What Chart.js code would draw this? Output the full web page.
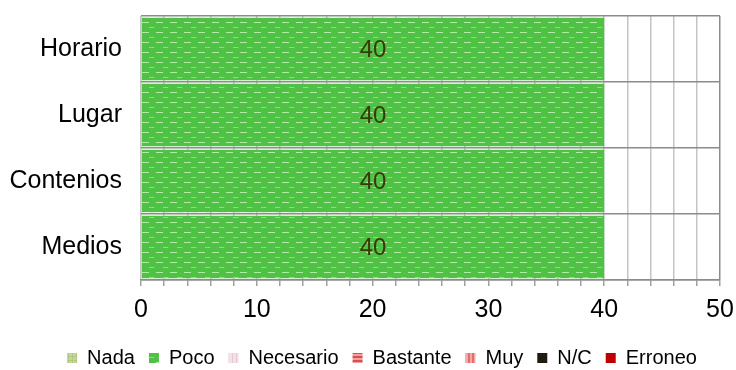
<!DOCTYPE html>
<html><head><meta charset="utf-8">
<script src="https://cdn.jsdelivr.net/npm/chart.js@4.4.1/dist/chart.umd.min.js"></script>
<style>html,body{margin:0;padding:0;background:#fff}#wrap{width:736px;height:370px}</style>
</head><body><div id="wrap"><canvas id="c" width="736" height="370"></canvas></div>
<script>
const categories = ['Horario', 'Lugar', 'Contenios', 'Medios'];
const seriesNames = ['Nada', 'Poco', 'Necesario', 'Bastante', 'Muy', 'N/C', 'Erroneo'];
const nada = [0, 0, 0, 0];
const poco = [40, 40, 40, 40];
const necesario = [0, 0, 0, 0];
const bastante = [0, 0, 0, 0];
const muy = [0, 0, 0, 0];
const nc = [0, 0, 0, 0];
const erroneo = [0, 0, 0, 0];
const xTicks = [0, 10, 20, 30, 40, 50];

const FONT = '"Liberation Sans", Arial, sans-serif';

function makePattern(w, h, base, draw) {
  const c = document.createElement('canvas'); c.width = w; c.height = h;
  const g = c.getContext('2d'); g.fillStyle = base; g.fillRect(0, 0, w, h);
  draw(g);
  return document.getElementById('c').getContext('2d').createPattern(c, 'repeat');
}
const pocoPat = makePattern(14, 10, '#4fc144', g => {
  g.fillStyle = 'rgba(200,245,190,0.8)'; g.fillRect(2, 2, 7, 1);
  g.fillStyle = 'rgba(170,232,160,0.7)'; g.fillRect(9, 7, 5, 1);
  g.fillStyle = 'rgba(120,210,110,0.5)'; g.fillRect(0, 7, 1, 1);
});
const nadaPat = makePattern(4, 4, '#c4d89c', g => { g.fillStyle = '#b0c884'; g.fillRect(0, 0, 1, 4); g.fillRect(0, 0, 4, 1); });
const necPat = makePattern(4, 4, '#f4e0e8', g => { g.fillStyle = '#e8c8d4'; g.fillRect(0, 0, 1, 4); });
const bastPat = makePattern(4, 4, '#f4a0a0', g => { g.fillStyle = '#d85050'; g.fillRect(0, 0, 4, 2); });
const muyPat = makePattern(4, 4, '#f4a8a8', g => { g.fillStyle = '#e07070'; g.fillRect(0, 0, 2, 4); });

const colors = [nadaPat, pocoPat, necPat, bastPat, muyPat, '#201a10', '#c00000'];
const values = [nada, poco, necesario, bastante, muy, nc, erroneo];

const labelPlugin = {
  id: 'valLabels',
  afterDatasetsDraw(chart) {
    const ctx = chart.ctx;
    ctx.save();
    ctx.font = '24px ' + FONT;
    ctx.fillStyle = '#3a3a08';
    ctx.textAlign = 'center'; ctx.textBaseline = 'middle';
    chart.data.datasets.forEach((ds, i) => {
      const meta = chart.getDatasetMeta(i);
      meta.data.forEach((el, j) => {
        const v = ds.data[j];
        if (v > 0) { const p = el.getCenterPoint(); ctx.fillText(String(v), p.x, p.y + 1); }
      });
    });
    ctx.restore();
  }
};

const legendShift = {
  id: 'legendShift',
  afterLayout(chart) {
    if (chart.legend) { chart.legend.left += 22; chart.legend.right += 22; }
  }
};

new Chart(document.getElementById('c'), {
  type: 'bar',
  data: {
    labels: categories,
    datasets: seriesNames.map((n, i) => ({
      label: n, data: values[i], backgroundColor: colors[i], borderWidth: 0,
      barPercentage: 1, categoryPercentage: 0.95
    }))
  },
  options: {
    indexAxis: 'y', responsive: false, animation: false,
    layout: { padding: { left: 0, right: 16, top: 16, bottom: -8 } },
    plugins: {
      legend: {
        position: 'bottom',
        labels: { boxWidth: 10, boxHeight: 10, padding: 14, color: '#000',
          font: { family: FONT, size: 20 } }
      },
      tooltip: { enabled: false }
    },
    scales: {
      x: {
        stacked: true, min: 0, max: 50,
        ticks: { stepSize: 2, autoSkip: false, maxRotation: 0, color: '#000', padding: 9,
          font: { family: FONT, size: 25 },
          callback: v => xTicks.includes(v) ? String(v) : '' },
        grid: { color: ctx => (ctx.tick && ctx.tick.value === 50) ? '#8c8c8c' : '#c4c4c4', lineWidth: 1.5, tickLength: 6, tickColor: '#a0a0a0' },
        border: { color: '#8c8c8c', width: 1.5 },
        afterFit: s => { s.height = 54; s.paddingLeft = 0; s.paddingRight = 0; }
      },
      y: {
        stacked: true,
        ticks: { color: '#000', padding: 19,
          font: { family: FONT, size: 25 } },
        grid: { color: '#8c8c8c', lineWidth: 1.5, offset: true, drawTicks: false, z: 1 },
        border: { display: false },
        afterFit: s => { s.width = 141; s.paddingTop = 0; s.paddingBottom = 0; }
      }
    }
  },
  plugins: [labelPlugin, legendShift]
});
</script></body></html>
